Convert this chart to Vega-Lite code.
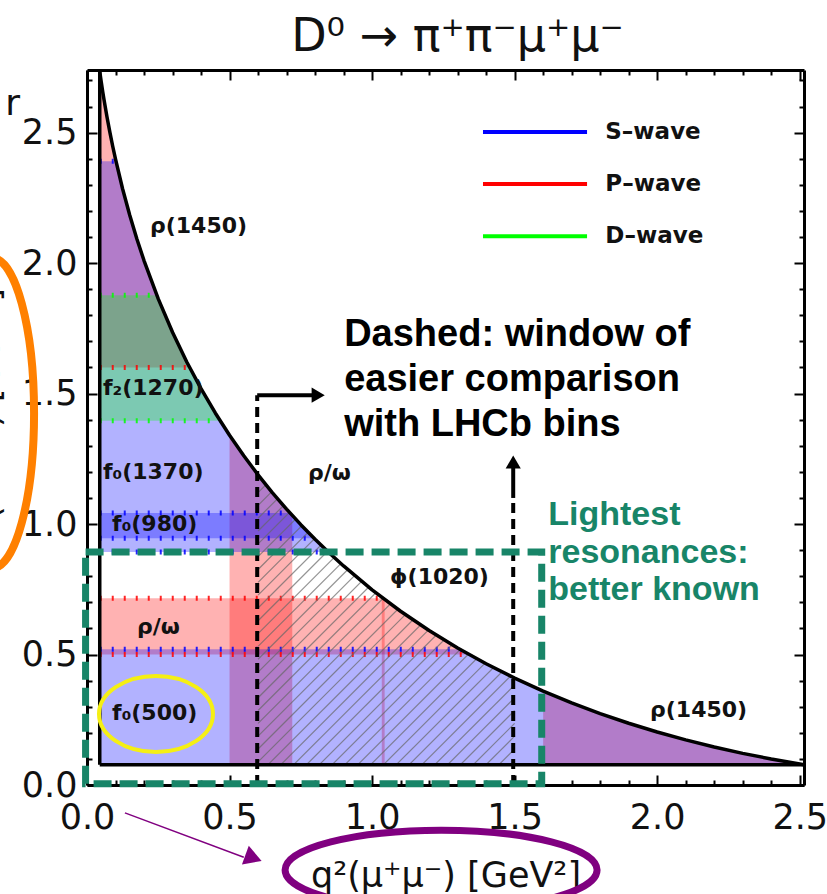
{
  "$schema": "https://vega.github.io/schema/vega-lite/v6.json",
  "width": 717,
  "height": 715,
  "autosize": "none",
  "padding": {"left": 87, "top": 70, "right": 23, "bottom": 109},
  "background": "white",
  "config": {"view": {"stroke": null}, "font": "DejaVu Sans"},
  "title": {"text": "D⁰ → π⁺π⁻μ⁺μ⁻", "font": "DejaVu Sans", "fontSize": 46, "fontWeight": "normal", "color": "#111", "baseline": "alphabetic", "offset": 13, "dx": 12, "dy": 47},
  "datasets": {
    "bands": [
      {"name": "rho/omega (s)", "wave": "P", "x1": 0.0447, "x2": 2.514, "y1": 0.5, "y2": 0.716},
      {"name": "rho(1450) (s)", "wave": "P", "x1": 0.0447, "x2": 2.514, "y1": 1.6, "y2": 2.74},
      {"name": "rho/omega (q2)", "wave": "P", "x1": 0.5, "x2": 0.72, "y1": 0.0779, "y2": 2.74},
      {"name": "phi(1020) (q2)", "wave": "P", "x1": 1.034, "x2": 1.044, "y1": 0.0779, "y2": 2.74},
      {"name": "rho(1450) (q2)", "wave": "P", "x1": 1.6, "x2": 2.514, "y1": 0.0779, "y2": 2.74},
      {"name": "f0(500)", "wave": "S", "x1": 0.0447, "x2": 2.514, "y1": 0.0779, "y2": 0.52},
      {"name": "f0(980)", "wave": "S", "x1": 0.0447, "x2": 2.514, "y1": 0.893, "y2": 1.042},
      {"name": "f0(1370)", "wave": "S", "x1": 0.0447, "x2": 2.514, "y1": 0.946, "y2": 2.39},
      {"name": "f2(1270)", "wave": "D", "x1": 0.0447, "x2": 2.514, "y1": 1.396, "y2": 1.877}
    ],
    "dots": [
      {"wave": "P", "s": 0.5}, {"wave": "S", "s": 0.52}, {"wave": "P", "s": 0.716},
      {"wave": "S", "s": 0.893}, {"wave": "S", "s": 0.946}, {"wave": "S", "s": 1.042},
      {"wave": "D", "s": 1.396}, {"wave": "P", "s": 1.6}, {"wave": "D", "s": 1.877},
      {"wave": "S", "s": 2.39}
    ],
    "hatch": [
      {"x1": 0.6, "y1": 1.1698, "x2": 0.6276, "y2": 1.2},
      {"x1": 0.6, "y1": 1.1207, "x2": 0.6726, "y2": 1.2},
      {"x1": 0.6, "y1": 1.0715, "x2": 0.7176, "y2": 1.2},
      {"x1": 0.6, "y1": 1.0224, "x2": 0.7626, "y2": 1.2},
      {"x1": 0.6, "y1": 0.9733, "x2": 0.8076, "y2": 1.2},
      {"x1": 0.6, "y1": 0.9241, "x2": 0.8526, "y2": 1.2},
      {"x1": 0.6, "y1": 0.875, "x2": 0.8976, "y2": 1.2},
      {"x1": 0.6, "y1": 0.8259, "x2": 0.9426, "y2": 1.2},
      {"x1": 0.6, "y1": 0.7767, "x2": 0.9876, "y2": 1.2},
      {"x1": 0.6, "y1": 0.7276, "x2": 1.0326, "y2": 1.2},
      {"x1": 0.6, "y1": 0.6784, "x2": 1.0776, "y2": 1.2},
      {"x1": 0.6, "y1": 0.6293, "x2": 1.1226, "y2": 1.2},
      {"x1": 0.6, "y1": 0.5802, "x2": 1.1676, "y2": 1.2},
      {"x1": 0.6, "y1": 0.531, "x2": 1.2126, "y2": 1.2},
      {"x1": 0.6, "y1": 0.4819, "x2": 1.2576, "y2": 1.2},
      {"x1": 0.6, "y1": 0.4328, "x2": 1.3026, "y2": 1.2},
      {"x1": 0.6, "y1": 0.3836, "x2": 1.3476, "y2": 1.2},
      {"x1": 0.6, "y1": 0.3345, "x2": 1.3926, "y2": 1.2},
      {"x1": 0.6, "y1": 0.2854, "x2": 1.4376, "y2": 1.2},
      {"x1": 0.6, "y1": 0.2362, "x2": 1.4826, "y2": 1.2},
      {"x1": 0.6, "y1": 0.1871, "x2": 1.5, "y2": 1.1698},
      {"x1": 0.6, "y1": 0.138, "x2": 1.5, "y2": 1.1207},
      {"x1": 0.6, "y1": 0.0888, "x2": 1.5, "y2": 1.0715},
      {"x1": 0.635, "y1": 0.0779, "x2": 1.5, "y2": 1.0224},
      {"x1": 0.68, "y1": 0.0779, "x2": 1.5, "y2": 0.9733},
      {"x1": 0.725, "y1": 0.0779, "x2": 1.5, "y2": 0.9241},
      {"x1": 0.77, "y1": 0.0779, "x2": 1.5, "y2": 0.875},
      {"x1": 0.815, "y1": 0.0779, "x2": 1.5, "y2": 0.8259},
      {"x1": 0.86, "y1": 0.0779, "x2": 1.5, "y2": 0.7767},
      {"x1": 0.905, "y1": 0.0779, "x2": 1.5, "y2": 0.7276},
      {"x1": 0.95, "y1": 0.0779, "x2": 1.5, "y2": 0.6784},
      {"x1": 0.995, "y1": 0.0779, "x2": 1.5, "y2": 0.6293},
      {"x1": 1.04, "y1": 0.0779, "x2": 1.5, "y2": 0.5802},
      {"x1": 1.085, "y1": 0.0779, "x2": 1.5, "y2": 0.531},
      {"x1": 1.13, "y1": 0.0779, "x2": 1.5, "y2": 0.4819},
      {"x1": 1.175, "y1": 0.0779, "x2": 1.5, "y2": 0.4328},
      {"x1": 1.22, "y1": 0.0779, "x2": 1.5, "y2": 0.3836},
      {"x1": 1.265, "y1": 0.0779, "x2": 1.5, "y2": 0.3345},
      {"x1": 1.31, "y1": 0.0779, "x2": 1.5, "y2": 0.2854},
      {"x1": 1.355, "y1": 0.0779, "x2": 1.5, "y2": 0.2362},
      {"x1": 1.4, "y1": 0.0779, "x2": 1.5, "y2": 0.1871},
      {"x1": 1.445, "y1": 0.0779, "x2": 1.5, "y2": 0.138},
      {"x1": 1.49, "y1": 0.0779, "x2": 1.5, "y2": 0.0888}
    ],
    "curve": [
      {"q": 0.0447, "s": 2.7341}, {"q": 0.05, "s": 2.6936}, {"q": 0.055, "s": 2.6579},
      {"q": 0.06, "s": 2.6241}, {"q": 0.07, "s": 2.5608}, {"q": 0.08, "s": 2.5027},
      {"q": 0.09, "s": 2.4487}, {"q": 0.1, "s": 2.3982}, {"q": 0.125, "s": 2.284},
      {"q": 0.15, "s": 2.1831}, {"q": 0.175, "s": 2.0924}, {"q": 0.2, "s": 2.0097},
      {"q": 0.25, "s": 1.8628}, {"q": 0.3, "s": 1.7348}, {"q": 0.35, "s": 1.6211},
      {"q": 0.4, "s": 1.5188}, {"q": 0.45, "s": 1.4257}, {"q": 0.5, "s": 1.3403},
      {"q": 0.55, "s": 1.2616}, {"q": 0.6, "s": 1.1886}, {"q": 0.65, "s": 1.1207},
      {"q": 0.7, "s": 1.0572}, {"q": 0.75, "s": 0.9976}, {"q": 0.8, "s": 0.9417},
      {"q": 0.85, "s": 0.889}, {"q": 0.9, "s": 0.8394}, {"q": 1.0, "s": 0.748},
      {"q": 1.1, "s": 0.6659}, {"q": 1.2, "s": 0.592}, {"q": 1.3, "s": 0.5251},
      {"q": 1.4, "s": 0.4646}, {"q": 1.5, "s": 0.4097}, {"q": 1.6, "s": 0.3599},
      {"q": 1.7, "s": 0.3147}, {"q": 1.8, "s": 0.2737}, {"q": 1.9, "s": 0.2366},
      {"q": 2.0, "s": 0.2031}, {"q": 2.1, "s": 0.1728}, {"q": 2.2, "s": 0.1456},
      {"q": 2.3, "s": 0.1213}, {"q": 2.4, "s": 0.0996}, {"q": 2.5, "s": 0.0805},
      {"q": 2.5144, "s": 0.0779}
    ],
    "edges": [
      {"x1": 0.0447, "y1": 0.0779, "x2": 0.0447, "y2": 2.7341},
      {"x1": 0.0447, "y1": 0.0779, "x2": 2.5144, "y2": 0.0779}
    ],
    "labels": [
      {"x": 0.221, "y": 2.142, "label": "ρ(1450)"},
      {"x": 0.056, "y": 1.521, "label": "f₂(1270)"},
      {"x": 0.056, "y": 1.199, "label": "f₀(1370)"},
      {"x": 0.088, "y": 1.0, "label": "f₀(980)"},
      {"x": 0.175, "y": 0.607, "label": "ρ/ω"},
      {"x": 0.088, "y": 0.276, "label": "f₀(500)"},
      {"x": 0.775, "y": 1.195, "label": "ρ/ω"},
      {"x": 1.063, "y": 0.797, "label": "ϕ(1020)"},
      {"x": 1.975, "y": 0.287, "label": "ρ(1450)"}
    ],
    "legend": [
      {"wave": "S", "label": "S–wave", "x1": 1.389, "x2": 1.754, "tx": 1.818, "s": 2.502},
      {"wave": "P", "label": "P–wave", "x1": 1.389, "x2": 1.754, "tx": 1.818, "s": 2.303},
      {"wave": "D", "label": "D–wave", "x1": 1.389, "x2": 1.754, "tx": 1.818, "s": 2.103}
    ],
    "dashed": [
      {"x1": 0.597, "y1": 0.0, "x2": 0.597, "y2": 1.494},
      {"x1": 1.495, "y1": 0.0, "x2": 1.495, "y2": 1.103}
    ],
    "shafts": [
      {"x1": 0.597, "y1": 1.494, "x2": 0.8, "y2": 1.494},
      {"x1": 1.495, "y1": 1.1, "x2": 1.495, "y2": 1.225}
    ],
    "heads": [
      {"x": 0.811, "y": 1.494, "dir": "right"},
      {"x": 1.495, "y": 1.238, "dir": "up"}
    ],
    "window": [{"x1": -0.005, "x2": 1.595, "y1": 0.005, "y2": 0.893}],
    "notes": [
      {"x": 0.902, "y": 1.682, "t": "Dashed: window of"},
      {"x": 0.902, "y": 1.51, "t": "easier comparison"},
      {"x": 0.902, "y": 1.337, "t": "with LHCb bins"}
    ],
    "notes2": [
      {"x": 1.618, "y": 0.996, "t": "Lightest"},
      {"x": 1.618, "y": 0.851, "t": "resonances:"},
      {"x": 1.618, "y": 0.709, "t": "better known"}
    ]
  },
  "resolve": {"axis": {"x": "independent", "y": "independent"}},
  "layer": [
    {
      "data": {"name": "bands"},
      "mark": {"type": "rect", "fillOpacity": 0.3, "strokeWidth": 0},
      "encoding": {
        "x": {"field": "x1", "type": "quantitative", "axis": null, "scale": {"domain": [0, 2.515], "nice": false, "zero": false}},
        "x2": {"field": "x2"},
        "y": {"field": "y1", "type": "quantitative", "axis": null, "scale": {"domain": [0, 2.74], "nice": false, "zero": false}},
        "y2": {"field": "y2"},
        "fill": {"field": "wave", "type": "nominal", "scale": {"domain": ["S", "P", "D"], "range": ["#0000ff", "#ff0000", "#00ff00"]}, "legend": null}
      }
    },
    {
      "data": {"name": "dots"},
      "mark": {"type": "rule", "strokeDash": [2, 10], "strokeWidth": 5, "opacity": 0.85},
      "encoding": {
        "x": {"datum": 0.0447, "type": "quantitative", "axis": null},
        "x2": {"datum": 2.514},
        "y": {"field": "s", "type": "quantitative", "axis": null},
        "stroke": {"field": "wave", "type": "nominal", "scale": {"domain": ["S", "P", "D"], "range": ["#0000ff", "#ff0000", "#00ff00"]}, "legend": null}
      }
    },
    {
      "data": {"name": "hatch"},
      "mark": {"type": "rule", "stroke": "#666666", "strokeWidth": 1.2, "opacity": 0.7},
      "encoding": {
        "x": {"field": "x1", "type": "quantitative", "axis": null},
        "x2": {"field": "x2"},
        "y": {"field": "y1", "type": "quantitative", "axis": null},
        "y2": {"field": "y2"}
      }
    },
    {
      "data": {"name": "curve"},
      "mark": {"type": "area", "orient": "vertical", "fill": "white", "opacity": 1},
      "encoding": {
        "x": {"field": "q", "type": "quantitative", "scale": {"domain": [0, 2.515], "nice": false, "zero": false},
          "axis": {"orient": "top", "values": [0,0.1,0.2,0.3,0.4,0.5,0.6,0.7,0.8,0.9,1,1.1,1.2,1.3,1.4,1.5,1.6,1.7,1.8,1.9,2,2.1,2.2,2.3,2.4,2.5],
            "labels": false, "title": null, "grid": false, "zindex": 1, "domainColor": "black", "domainWidth": 3, "tickColor": "black", "tickWidth": 2,
            "tickSize": {"condition": {"test": "abs(datum.value*2-round(datum.value*2))<0.001", "value": -10}, "value": -5}}},
        "y": {"field": "s", "type": "quantitative", "scale": {"domain": [0, 2.74], "nice": false, "zero": false},
          "axis": {"orient": "right", "values": [0,0.1,0.2,0.3,0.4,0.5,0.6,0.7,0.8,0.9,1,1.1,1.2,1.3,1.4,1.5,1.6,1.7,1.8,1.9,2,2.1,2.2,2.3,2.4,2.5,2.6,2.7],
            "labels": false, "title": null, "grid": false, "zindex": 1, "domainColor": "black", "domainWidth": 3, "tickColor": "black", "tickWidth": 2,
            "tickSize": {"condition": {"test": "abs(datum.value*2-round(datum.value*2))<0.001", "value": -10}, "value": -5}}},
        "y2": {"datum": 2.74}
      }
    },
    {
      "data": {"name": "curve"},
      "mark": {"type": "line", "color": "black", "strokeWidth": 3.5, "strokeJoin": "round"},
      "encoding": {
        "x": {"field": "q", "type": "quantitative",
          "axis": {"orient": "bottom", "values": [0,0.1,0.2,0.3,0.4,0.5,0.6,0.7,0.8,0.9,1,1.1,1.2,1.3,1.4,1.5,1.6,1.7,1.8,1.9,2,2.1,2.2,2.3,2.4,2.5],
            "labelExpr": "abs(datum.value*2-round(datum.value*2))<0.001 ? format(datum.value,'.1f') : ''",
            "labelFont": "DejaVu Sans", "labelFontSize": 35, "labelColor": "#111", "labelPadding": 25, "labelFlush": false, "labelOverlap": false,
            "grid": false, "zindex": 0, "domainColor": "black", "domainWidth": 3, "tickColor": "black", "tickWidth": 2,
            "tickSize": {"condition": {"test": "abs(datum.value*2-round(datum.value*2))<0.001", "value": -10}, "value": -5},
            "title": "q²(μ⁺μ⁻) [GeV²]", "titleFont": "DejaVu Sans", "titleFontSize": 35, "titleFontWeight": "normal", "titleColor": "#111", "titlePadding": 18}},
        "y": {"field": "s", "type": "quantitative",
          "axis": {"orient": "left", "values": [0,0.1,0.2,0.3,0.4,0.5,0.6,0.7,0.8,0.9,1,1.1,1.2,1.3,1.4,1.5,1.6,1.7,1.8,1.9,2,2.1,2.2,2.3,2.4,2.5,2.6,2.7],
            "labelExpr": "abs(datum.value*2-round(datum.value*2))<0.001 ? format(datum.value,'.1f') : ''",
            "labelFont": "DejaVu Sans", "labelFontSize": 35, "labelColor": "#111", "labelPadding": 20, "labelFlush": false, "labelOverlap": false,
            "grid": false, "zindex": 0, "domainColor": "black", "domainWidth": 3, "tickColor": "black", "tickWidth": 2,
            "tickSize": {"condition": {"test": "abs(datum.value*2-round(datum.value*2))<0.001", "value": -10}, "value": -5},
            "title": "m²(π⁺π⁻) [GeV²]", "titleFont": "DejaVu Sans", "titleFontSize": 35, "titleFontWeight": "normal", "titleColor": "#111", "titlePadding": 16}}
      }
    },
    {
      "data": {"name": "edges"},
      "mark": {"type": "rule", "color": "black", "strokeWidth": 3.5},
      "encoding": {
        "x": {"field": "x1", "type": "quantitative", "axis": null},
        "x2": {"field": "x2"},
        "y": {"field": "y1", "type": "quantitative", "axis": null},
        "y2": {"field": "y2"}
      }
    },
    {
      "data": {"name": "labels"},
      "mark": {"type": "text", "font": "DejaVu Sans", "fontWeight": "bold", "fontSize": 22, "align": "left", "baseline": "middle", "color": "#111"},
      "encoding": {
        "x": {"field": "x", "type": "quantitative", "axis": null},
        "y": {"field": "y", "type": "quantitative", "axis": null},
        "text": {"field": "label", "type": "nominal"}
      }
    },
    {
      "data": {"name": "legend"},
      "mark": {"type": "rule", "strokeWidth": 4},
      "encoding": {
        "x": {"field": "x1", "type": "quantitative", "axis": null},
        "x2": {"field": "x2"},
        "y": {"field": "s", "type": "quantitative", "axis": null},
        "stroke": {"field": "wave", "type": "nominal", "scale": {"domain": ["S", "P", "D"], "range": ["#0000ff", "#ff0000", "#00ff00"]}, "legend": null}
      }
    },
    {
      "data": {"name": "legend"},
      "mark": {"type": "text", "font": "DejaVu Sans", "fontWeight": "bold", "fontSize": 23, "align": "left", "baseline": "middle", "color": "#111"},
      "encoding": {
        "x": {"field": "tx", "type": "quantitative", "axis": null},
        "y": {"field": "s", "type": "quantitative", "axis": null},
        "text": {"field": "label", "type": "nominal"}
      }
    },
    {
      "data": {"name": "dashed"},
      "mark": {"type": "rule", "color": "black", "strokeWidth": 4, "strokeDash": [10, 6]},
      "encoding": {
        "x": {"field": "x1", "type": "quantitative", "axis": null},
        "x2": {"field": "x2"},
        "y": {"field": "y1", "type": "quantitative", "axis": null},
        "y2": {"field": "y2"}
      }
    },
    {
      "data": {"name": "shafts"},
      "mark": {"type": "rule", "color": "black", "strokeWidth": 4},
      "encoding": {
        "x": {"field": "x1", "type": "quantitative", "axis": null},
        "x2": {"field": "x2"},
        "y": {"field": "y1", "type": "quantitative", "axis": null},
        "y2": {"field": "y2"}
      }
    },
    {
      "data": {"name": "heads"},
      "mark": {"type": "point", "filled": true, "color": "black", "opacity": 1, "size": 230},
      "encoding": {
        "x": {"field": "x", "type": "quantitative", "axis": null},
        "y": {"field": "y", "type": "quantitative", "axis": null},
        "shape": {"field": "dir", "type": "nominal", "scale": {"domain": ["right", "up"], "range": ["triangle-right", "triangle-up"]}, "legend": null}
      }
    },
    {
      "data": {"name": "window"},
      "mark": {"type": "rect", "fill": "transparent", "stroke": "#188568", "strokeWidth": 7, "strokeDash": [18, 8]},
      "encoding": {
        "x": {"field": "x1", "type": "quantitative", "axis": null},
        "x2": {"field": "x2"},
        "y": {"field": "y1", "type": "quantitative", "axis": null},
        "y2": {"field": "y2"}
      }
    },
    {
      "data": {"name": "notes"},
      "mark": {"type": "text", "font": "Liberation Sans", "fontWeight": "bold", "fontSize": 38, "align": "left", "baseline": "alphabetic", "color": "black"},
      "encoding": {
        "x": {"field": "x", "type": "quantitative", "axis": null},
        "y": {"field": "y", "type": "quantitative", "axis": null},
        "text": {"field": "t", "type": "nominal"}
      }
    },
    {
      "data": {"name": "notes2"},
      "mark": {"type": "text", "font": "Liberation Sans", "fontWeight": "bold", "fontSize": 34, "align": "left", "baseline": "alphabetic", "color": "#188568"},
      "encoding": {
        "x": {"field": "x", "type": "quantitative", "axis": null},
        "y": {"field": "y", "type": "quantitative", "axis": null},
        "text": {"field": "t", "type": "nominal"}
      }
    },
    {
      "data": {"values": [{"x": 0.242, "y": 0.272}]},
      "mark": {"type": "point", "shape": "M-1,0A1,0.667 0 1,0 1,0A1,0.667 0 1,0 -1,0Z", "size": 12996, "filled": false, "stroke": "#f5ef14", "strokeWidth": 4, "opacity": 1},
      "encoding": {
        "x": {"field": "x", "type": "quantitative", "axis": null},
        "y": {"field": "y", "type": "quantitative", "axis": null}
      }
    },
    {
      "data": {"values": [{"x": -0.333, "y": 1.425}]},
      "mark": {"type": "point", "shape": "M0,-1A0.271,1 0 1,0 0,1A0.271,1 0 1,0 0,-1Z", "size": 96100, "filled": false, "stroke": "#ff8000", "strokeWidth": 8, "opacity": 1},
      "encoding": {
        "x": {"field": "x", "type": "quantitative", "axis": null},
        "y": {"field": "y", "type": "quantitative", "axis": null}
      }
    },
    {
      "data": {"values": [{"x": 1.242, "y": -0.326}]},
      "mark": {"type": "point", "shape": "M-1,0A1,0.256 0 1,0 1,0A1,0.256 0 1,0 -1,0Z", "size": 97344, "filled": false, "stroke": "#800080", "strokeWidth": 7, "opacity": 1},
      "encoding": {
        "x": {"field": "x", "type": "quantitative", "axis": null},
        "y": {"field": "y", "type": "quantitative", "axis": null}
      }
    },
    {
      "data": {"values": [{"x1": 0.133, "y1": -0.107, "x2": 0.55, "y2": -0.277}]},
      "mark": {"type": "rule", "color": "#800080", "strokeWidth": 1.5},
      "encoding": {
        "x": {"field": "x1", "type": "quantitative", "axis": null},
        "x2": {"field": "x2"},
        "y": {"field": "y1", "type": "quantitative", "axis": null},
        "y2": {"field": "y2"}
      }
    },
    {
      "data": {"values": [{"x": 0.584, "y": -0.28}]},
      "mark": {"type": "point", "shape": "triangle-right", "size": 400, "angle": 20, "filled": true, "color": "#800080", "opacity": 1},
      "encoding": {
        "x": {"field": "x", "type": "quantitative", "axis": null},
        "y": {"field": "y", "type": "quantitative", "axis": null}
      }
    },
    {
      "data": {"values": [{"x": -0.235, "y": 2.567, "t": "r"}]},
      "mark": {"type": "text", "font": "DejaVu Sans", "fontSize": 36, "align": "right", "baseline": "alphabetic", "color": "#111"},
      "encoding": {
        "x": {"field": "x", "type": "quantitative", "axis": null},
        "y": {"field": "y", "type": "quantitative", "axis": null},
        "text": {"field": "t", "type": "nominal"}
      }
    }
  ]
}
